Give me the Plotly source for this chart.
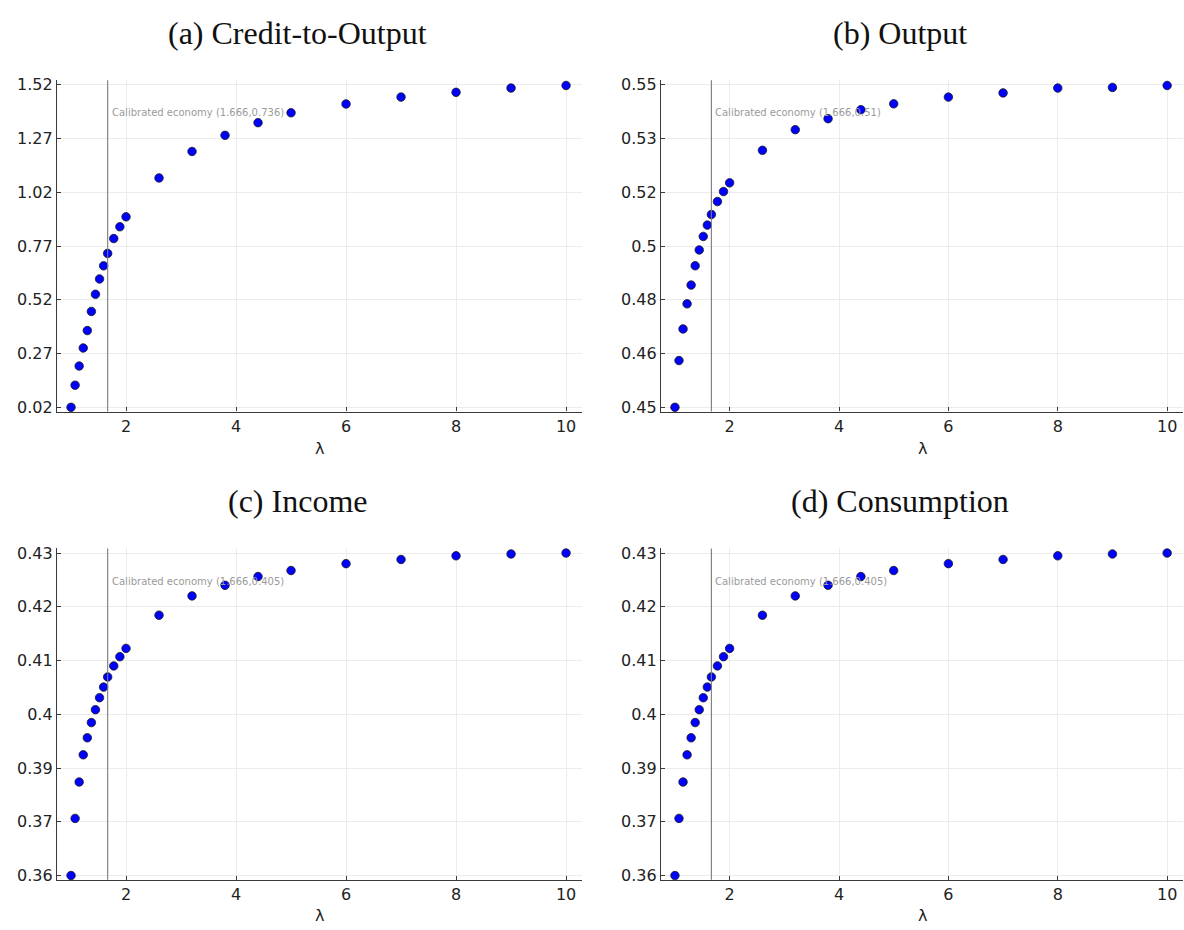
import plotly.graph_objects as go

# ---------------- data ----------------
lam = [1.0, 1.074, 1.148, 1.222, 1.296, 1.37, 1.444, 1.518, 1.592, 1.666, 1.777, 1.888,
       2.0, 2.6, 3.2, 3.8, 4.4, 5.0, 6.0, 7.0, 8.0, 9.0, 10.0]

credit = [0.020, 0.123, 0.212, 0.296, 0.377, 0.466, 0.546, 0.617, 0.678, 0.736, 0.805, 0.860,
          0.906, 1.087, 1.210, 1.285, 1.344, 1.390, 1.431, 1.463, 1.485, 1.505, 1.517]

output = [0.4500, 0.4645, 0.4743, 0.4821, 0.4879, 0.4939, 0.4988, 0.5030, 0.5065, 0.5098, 0.5138, 0.5169,
          0.5196, 0.5297, 0.5361, 0.5395, 0.5423, 0.5441, 0.5462, 0.5475, 0.5490, 0.5492, 0.5498]

income = [0.3600, 0.3724, 0.3803, 0.3862, 0.3899, 0.3932, 0.3960, 0.3986, 0.4009, 0.4031, 0.4055, 0.4075,
          0.4093, 0.4165, 0.4207, 0.4230, 0.4249, 0.4262, 0.4277, 0.4286, 0.4294, 0.4298, 0.4300]

consumption = [0.3600, 0.3724, 0.3803, 0.3862, 0.3899, 0.3932, 0.3960, 0.3986, 0.4009, 0.4031, 0.4055, 0.4075,
               0.4093, 0.4165, 0.4207, 0.4230, 0.4249, 0.4262, 0.4277, 0.4286, 0.4294, 0.4298, 0.4300]

titles = ["(a) Credit-to-Output", "(b) Output", "(c) Income", "(d) Consumption"]
calib_x = 1.666
calib_labels = ["Calibrated economy (1.666,0.736)", "Calibrated economy (1.666,0.51)",
                "Calibrated economy (1.666,0.405)", "Calibrated economy (1.666,0.405)"]

x_ticks = [2, 4, 6, 8, 10]
credit_ticks = [0.02, 0.27, 0.52, 0.77, 1.02, 1.27, 1.52]
credit_ticktext = ["0.02", "0.27", "0.52", "0.77", "1.02", "1.27", "1.52"]
output_ticks = [0.45, 0.466667, 0.483333, 0.5, 0.516667, 0.533333, 0.55]
output_ticktext = ["0.45", "0.46", "0.48", "0.5", "0.52", "0.53", "0.55"]
income_ticks = [0.36, 0.371667, 0.383333, 0.395, 0.406667, 0.418333, 0.43]
income_ticktext = ["0.36", "0.37", "0.39", "0.4", "0.41", "0.42", "0.43"]

series = [credit, output, income, consumption]
yticks = [(credit_ticks, credit_ticktext), (output_ticks, output_ticktext),
          (income_ticks, income_ticktext), (income_ticks, income_ticktext)]

# ---------------- layout geometry ----------------
W, H = 1184, 930
xdoms = [[57 / W, 582 / W], [661 / W, 1183 / W], [57 / W, 582 / W], [661 / W, 1183 / W]]
ydoms = [[1 - 411 / H, 1 - 76 / H], [1 - 411 / H, 1 - 76 / H],
         [1 - 884.3 / H, 1 - 549.3 / H], [1 - 884.3 / H, 1 - 549.3 / H]]
title_pos = [(297 / W, 1 - 28 / H), (900 / W, 1 - 28 / H), (297 / W, 1 - 501 / H), (900 / W, 1 - 501 / H)]
lam_y = [1 - 448 / H, 1 - 448 / H, 1 - 920 / H, 1 - 920 / H]

fig = go.Figure()
axis_col = "#3a3a3a"
grid_col = "#ececec"
layout = dict(width=W, height=H, margin=dict(l=0, r=0, t=0, b=0),
              paper_bgcolor="white", plot_bgcolor="white", showlegend=False)
annotations = []
shapes = []

for i in range(4):
    xa = "x" if i == 0 else f"x{i+1}"
    ya = "y" if i == 0 else f"y{i+1}"
    fig.add_trace(go.Scatter(
        x=lam, y=series[i], mode="markers", xaxis=xa, yaxis=ya,
        marker=dict(size=8.5, color="#0000ff", line=dict(width=0.8, color="#1a1a1a")),
        cliponaxis=False))
    tv, tt = yticks[i]
    span = tv[-1] - tv[0]
    yr = [tv[0] - 0.0132 * span, tv[-1] + 0.0144 * span]
    layout["xaxis" if i == 0 else f"xaxis{i+1}"] = dict(
        domain=xdoms[i], anchor=ya, range=[0.745, 10.29],
        tickvals=x_ticks, ticks="inside", ticklen=4, tickcolor=axis_col,
        showline=True, linecolor=axis_col, linewidth=1.3,
        showgrid=True, gridcolor=grid_col, gridwidth=1, zeroline=False,
        tickfont=dict(family="DejaVu Sans", size=16, color="#222"))
    layout["yaxis" if i == 0 else f"yaxis{i+1}"] = dict(
        domain=ydoms[i], anchor=xa, range=yr,
        tickvals=tv, ticktext=tt, ticks="inside", ticklen=4, tickcolor=axis_col,
        showline=True, linecolor=axis_col, linewidth=1.3,
        showgrid=True, gridcolor=grid_col, gridwidth=1, zeroline=False,
        tickfont=dict(family="DejaVu Sans", size=16, color="#222"))
    shapes.append(dict(type="line", xref=xa, yref=f"{ya} domain", x0=calib_x, x1=calib_x,
                       y0=0, y1=1, line=dict(color="#7a7a7a", width=1.1)))
    annotations.append(dict(xref=xa, yref=f"{ya} domain", x=1.70, y=0.9015, xanchor="left",
                            yanchor="middle", text=calib_labels[i], showarrow=False,
                            font=dict(family="DejaVu Sans", size=10, color="#9a9a9a")))
    annotations.append(dict(xref="paper", yref="paper", x=title_pos[i][0], y=title_pos[i][1],
                            xanchor="center", yanchor="middle", text=titles[i], showarrow=False,
                            font=dict(family="Liberation Serif", size=32, color="#111")))
    annotations.append(dict(xref="paper", yref="paper", x=(xdoms[i][0] + xdoms[i][1]) / 2, y=lam_y[i],
                            xanchor="center", yanchor="middle", text="λ", showarrow=False,
                            font=dict(family="DejaVu Sans", size=16, color="#222")))

layout["annotations"] = annotations
layout["shapes"] = shapes
fig.update_layout(**layout)
fig.write_html("out.html")
